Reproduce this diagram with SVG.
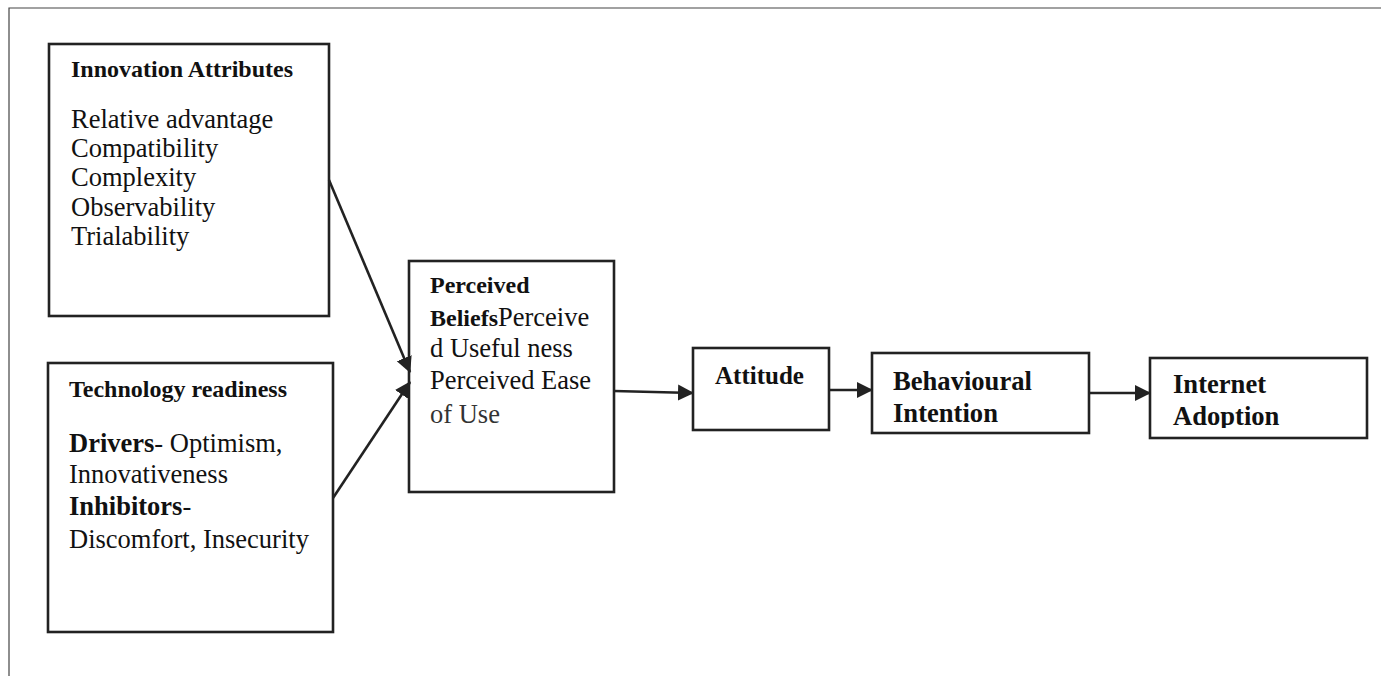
<svg xmlns="http://www.w3.org/2000/svg" width="1381" height="677" viewBox="0 0 1381 677">
<style>
.box{fill:#fff;stroke:#222;stroke-width:2.6}
.frame{fill:none;stroke:#444;stroke-width:1.2}
.t{font-family:"Liberation Serif","Times New Roman",serif;fill:#111}
.r{font-size:26.5px}
.h{font-size:24px;font-weight:bold}
.hb{font-size:26.6px;font-weight:bold}
.b{font-weight:bold}
.con{stroke:#222;stroke-width:2.6;fill:none;marker-end:url(#ah)}
</style>
<defs>
<marker id="ah" markerUnits="userSpaceOnUse" markerWidth="17" markerHeight="17" refX="15" refY="8" orient="auto" viewBox="0 0 17 16">
<path d="M0,0 L16,8 L0,16 z" fill="#222"/>
</marker>
<clipPath id="clipIA"><rect x="1150" y="358" width="217" height="70"/></clipPath>
</defs>
<rect width="1381" height="677" fill="#fff"/>
<g id="frame">
<polyline class="frame" points="1381,8 9,8 9,676"/>
</g>
<g id="innovation">
<rect class="box" x="49" y="44" width="280" height="272"/>
<text class="t h" x="71" y="77">Innovation Attributes</text>
<text class="t r" x="71" y="128">Relative advantage</text>
<text class="t r" x="71" y="157">Compatibility</text>
<text class="t r" x="71" y="186">Complexity</text>
<text class="t r" x="71" y="216">Observability</text>
<text class="t r" x="71" y="245">Trialability</text>
</g>
<g id="technology">
<rect class="box" x="48" y="363" width="285" height="269"/>
<text class="t h" x="69" y="397">Technology readiness</text>
<text class="t r" x="69" y="452"><tspan class="b">Drivers</tspan>- Optimism,</text>
<text class="t r" x="69" y="483">Innovativeness</text>
<text class="t r" x="69" y="515"><tspan class="b">Inhibitors</tspan>-</text>
<text class="t r" x="69" y="548">Discomfort, Insecurity</text>
</g>
<g id="beliefs">
<rect class="box" x="409" y="261" width="205" height="231"/>
<text class="t h" x="430" y="293">Perceived</text>
<text class="t" x="430" y="326"><tspan class="h">Beliefs</tspan><tspan class="r">Perceive</tspan></text>
<text class="t r" x="430" y="357">d Useful ness</text>
<text class="t r" x="430" y="389">Perceived Ease</text>
<text class="t r" x="430" y="423" style="fill:#333">of Use</text>
</g>
<g id="attitude">
<rect class="box" x="693" y="348" width="136" height="82"/>
<text class="t hb" x="715" y="384" style="font-size:25px">Attitude</text>
</g>
<g id="intention">
<rect class="box" x="872" y="353" width="217" height="80"/>
<text class="t hb" x="893" y="390">Behavioural</text>
<text class="t hb" x="893" y="422">Intention</text>
</g>
<g id="adoption">
<rect class="box" x="1150" y="358" width="217" height="80"/>
<g clip-path="url(#clipIA)">
<text class="t hb" x="1173" y="393">Internet</text>
<text class="t hb" x="1173" y="425">Adoption</text>
</g>
</g>
<g id="connectors">
<line class="con" x1="329" y1="180" x2="410" y2="372"/>
<line class="con" x1="333" y1="498" x2="410" y2="382"/>
<line class="con" x1="614" y1="391" x2="693" y2="393"/>
<line class="con" x1="829" y1="390" x2="872" y2="390"/>
<line class="con" x1="1089" y1="393" x2="1150" y2="393"/>
</g>
</svg>
